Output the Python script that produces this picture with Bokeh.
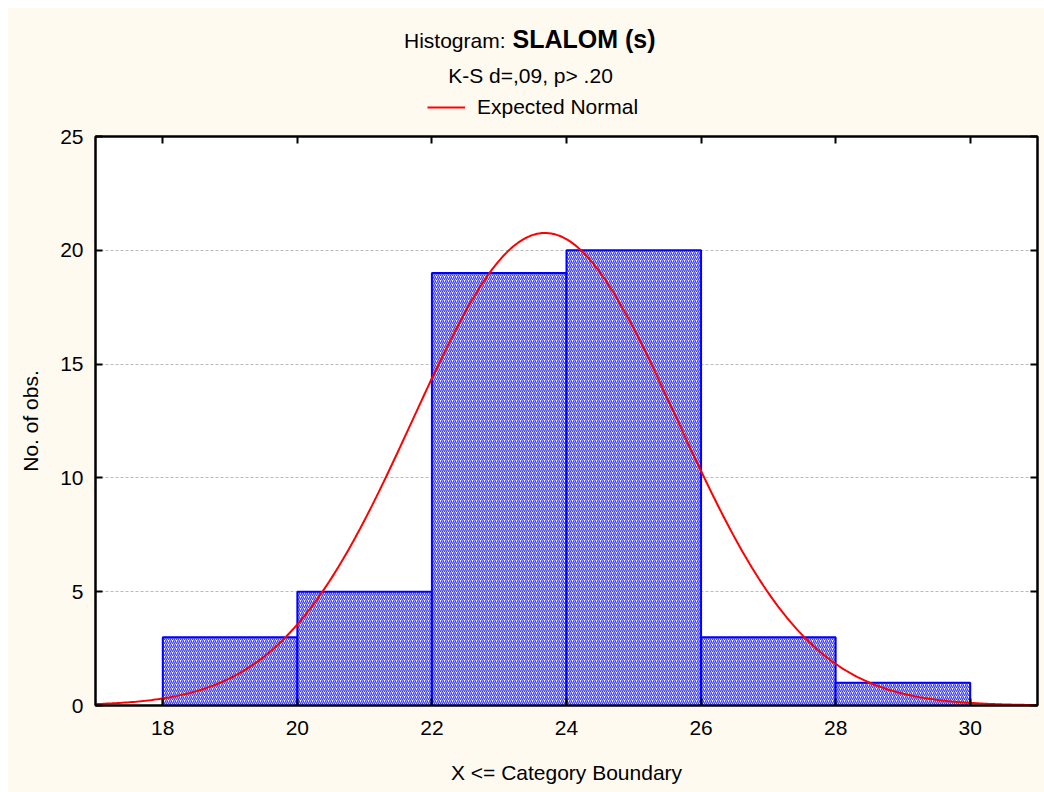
import numpy as np
from bokeh.plotting import figure
from bokeh.layouts import column
from bokeh.models import (LinearAxis, FixedTicker, Label, Legend, LegendItem, Range1d,
                          ColumnDataSource)
from bokeh.embed import file_html
from bokeh.resources import INLINE

# ---- data ----
bin_left = [18, 20, 22, 24, 26, 28]
bin_right = [20, 22, 24, 26, 28, 30]
counts = [3, 5, 19, 20, 3, 1]
x_ticks = [18, 20, 22, 24, 26, 28, 30]
y_ticks = [0, 5, 10, 15, 20, 25]
# expected-normal parameters
n_obs = sum(counts)
bin_width = 2
mu = 23.68
sigma = 1.96

FONT = "Liberation Sans"
FS = "21px"
CREAM = "#FFFAF0"
W = 1036
HEAD_H = 112
MAIN_H = 784 - HEAD_H
BL, BR = 87, 7   # left/right borders (frame spans page x 95..1037)

# ---------------- header (titles + legend) ----------------
head = figure(width=W, height=HEAD_H, output_backend="svg", toolbar_location=None,
              x_range=Range1d(95, 1037), y_range=Range1d(0, HEAD_H),
              x_axis_type=None, y_axis_type=None,
              min_border_left=BL, min_border_right=BR,
              min_border_top=0, min_border_bottom=0,
              background_fill_color=CREAM, border_fill_color=CREAM)
head.outline_line_color = None
head.grid.visible = False

def hy(page_y):
    return HEAD_H + 8 - page_y

head.add_layout(Label(x=505, y=hy(40), text="Histogram:", text_align="right",
                      text_baseline="middle", text_font=FONT,
                      text_font_size=FS, text_color="black"))
head.add_layout(Label(x=512, y=hy(38.5), text="SLALOM (s)", text_align="left",
                      text_baseline="middle", text_font=FONT,
                      text_font_size="25px", text_font_style="bold", text_color="black"))
head.add_layout(Label(x=530, y=hy(75), text="K-S d=,09, p> .20", text_align="center",
                      text_baseline="middle", text_font=FONT,
                      text_font_size=FS, text_color="black"))

key_src = ColumnDataSource(dict(x=[np.nan], y=[np.nan]))
legend_line = head.line(x="x", y="y", source=key_src, line_color="#FF0000", line_width=2)
legend = Legend(items=[LegendItem(label="Expected Normal", renderers=[legend_line])],
                location=(427 - 95, hy(119)), glyph_width=38, glyph_height=22,
                label_standoff=12, padding=0, margin=0, spacing=0,
                border_line_alpha=0, background_fill_alpha=0,
                label_text_font=FONT, label_text_font_size=FS,
                label_text_color="black")
head.add_layout(legend, "center")

# ---------------- main histogram ----------------
p = figure(width=W, height=MAIN_H, output_backend="svg", toolbar_location=None,
           x_range=Range1d(17, 31), y_range=Range1d(0, 25),
           min_border_left=BL, min_border_right=BR, min_border_top=136 - 8 - HEAD_H,
           min_border_bottom=87,
           background_fill_color="white", border_fill_color=CREAM)
p.outline_line_color = "black"
p.outline_line_width = 2

bars = ColumnDataSource(dict(left=bin_left, right=bin_right, top=counts,
                             bottom=[0] * len(counts)))
p.quad(left="left", right="right", top="top", bottom="bottom", source=bars,
       fill_color="white", line_color="#0000FF", line_width=2,
       hatch_pattern="/", hatch_color="#3A3AFF", hatch_scale=4, hatch_weight=1.3)

xs = np.linspace(17, 31, 400)
ys = n_obs * bin_width * np.exp(-0.5 * ((xs - mu) / sigma) ** 2) / (sigma * np.sqrt(2 * np.pi))
p.line(xs, ys, line_color="#FF0000", line_width=2)

for ax in (p.xaxis[0], p.yaxis[0]):
    ax.major_tick_in = 7
    ax.major_tick_out = 0
    ax.minor_tick_line_color = None
    ax.axis_line_width = 2
    ax.axis_line_color = "black"
    ax.major_tick_line_width = 2
    ax.major_label_text_font = FONT
    ax.major_label_text_font_size = FS
    ax.major_label_text_color = "black"
    ax.axis_label_text_font = FONT
    ax.axis_label_text_font_size = FS
    ax.axis_label_text_font_style = "normal"
    ax.axis_label_text_color = "black"
p.xaxis[0].ticker = FixedTicker(ticks=x_ticks)
p.yaxis[0].ticker = FixedTicker(ticks=y_ticks)
p.xaxis[0].axis_label = "X <= Category Boundary"
p.yaxis[0].axis_label = "No. of obs."
p.xaxis[0].major_label_standoff = 15
p.yaxis[0].major_label_standoff = 12
p.xaxis[0].axis_label_standoff = 23
p.yaxis[0].axis_label_standoff = 15

def mirror_axis(ticks):
    return LinearAxis(ticker=FixedTicker(ticks=ticks),
                      major_label_overrides={t: "" for t in ticks},
                      major_label_text_color=None, major_label_text_font_size="1px",
                      major_tick_in=7, major_tick_out=0, minor_tick_line_color=None,
                      axis_line_width=2, major_tick_line_width=2, major_label_standoff=0)
p.add_layout(mirror_axis(x_ticks), "above")
p.add_layout(mirror_axis(y_ticks), "right")

p.xgrid.grid_line_color = None
p.ygrid.grid_line_color = "#BBBBBB"
p.ygrid.grid_line_dash = "3 2"
p.ygrid.grid_line_width = 1
p.ygrid.ticker = FixedTicker(ticks=y_ticks)

layout = column(head, p, spacing=0, margin=(8, 0, 0, 8),
                styles={"background-color": CREAM})
open("out.html", "w").write(file_html(layout, INLINE))
